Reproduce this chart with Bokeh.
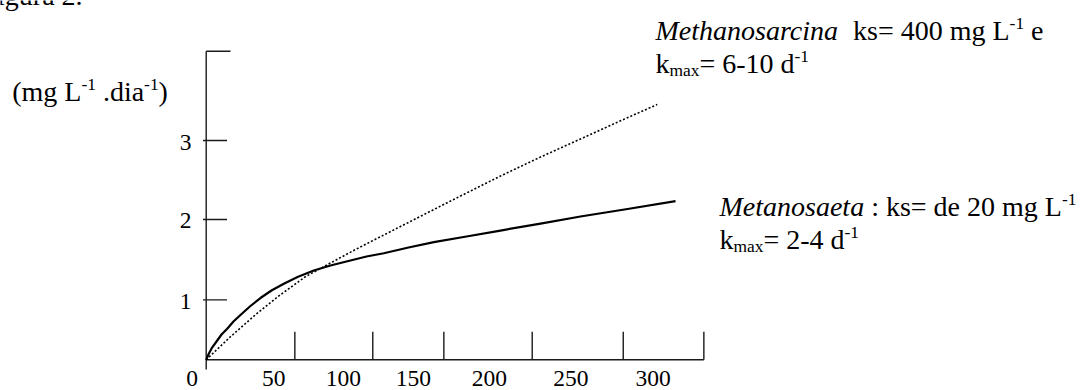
from bokeh.plotting import figure
from bokeh.models import Range1d
from bokeh.embed import file_html
from bokeh.resources import INLINE
from bokeh.core.properties import value

# ---------------- data (substrate mg/L vs rate) ----------------
metanosaeta_x = [0, 1.5, 3.6, 7.4, 10.3, 14.1, 18.3, 23.0, 29.7, 36.4, 43.8, 52.1, 61.3,
                 72.2, 83.4, 96.8, 107.6, 119.2, 135.8, 152.8, 174.7, 197.5, 224.4,
                 251.2, 282.8, 315.0]
metanosaeta_y = [0, 0.073, 0.155, 0.264, 0.346, 0.424, 0.524, 0.613, 0.736, 0.845, 0.948,
                 1.040, 1.133, 1.222, 1.290, 1.358, 1.413, 1.458, 1.536, 1.609, 1.687,
                 1.768, 1.864, 1.960, 2.063, 2.170]
methanosarcina_x = [0, 16.3, 33.1, 49.9, 66.6, 83.4, 100.2, 130.4, 164.0, 197.5, 224.4,
                    253.4, 278.0, 302.7]
methanosarcina_y = [0, 0.316, 0.617, 0.891, 1.137, 1.324, 1.509, 1.824, 2.172, 2.514,
                    2.774, 3.041, 3.269, 3.492]
x_tick_marks = [59.5, 111.8, 159.5, 218.8, 279.9, 334.0]
x_tick_labels = ["0", "50", "100", "150", "200", "250", "300"]
x_label_pos = [-9.4, 45.4, 92.1, 139.1, 190.1, 244.8, 300.0]
y_tick_marks = [0.82, 1.92, 3.0]
y_tick_labels = ["1", "2", "3"]
x_axis_end = 334.0
y_axis_top = 4.22

# ---------------- scale set-up ----------------
KX, KY = 1.49, 73.1          # px per data unit
OX, OY = 205.7, 359.3        # window px of data origin
W, H = 1084, 390

def px2x(X):
    return (X - OX) / KX

def px2y(Y):
    return (OY - Y) / KY

p = figure(width=W, height=H, output_backend="svg", toolbar_location=None,
           x_axis_type=None, y_axis_type=None, min_border=0,
           x_range=Range1d(px2x(0), px2x(W)),
           y_range=Range1d(px2y(H), px2y(0)))
p.outline_line_color = None
p.grid.visible = False
p.background_fill_color = "white"

AX = "#1a1a1a"
FONT = value("Liberation Serif")
MID = 0.33   # distance (in em) from baseline to the "middle" anchor

# axes
p.line([0, x_axis_end], [0, 0], line_color=AX, line_width=1.4)
p.line([0, 0], [px2y(369), y_axis_top], line_color=AX, line_width=1.4)
p.line([0, px2x(230)], [y_axis_top, y_axis_top], line_color=AX, line_width=1.4)
# x tick marks (inside, upward)
p.segment(x0=x_tick_marks, y0=[0] * len(x_tick_marks), x1=x_tick_marks,
          y1=[px2y(331.2)] * len(x_tick_marks), line_color=AX, line_width=1.4)
# y tick marks
p.segment(x0=[px2x(202.5)] * len(y_tick_marks), y0=y_tick_marks,
          x1=[px2x(226.5)] * len(y_tick_marks), y1=y_tick_marks,
          line_color=AX, line_width=1.4)

TFS = 23.5
p.text(x=x_label_pos, y=[px2y(377.8)] * len(x_label_pos), text=x_tick_labels,
       text_font=FONT, text_font_size=f"{TFS}px", text_align="center",
       text_baseline="middle", text_color="black")
p.text(x=[px2x(191)] * len(y_tick_marks), y=[v - 1.5 / KY for v in y_tick_marks],
       text=y_tick_labels, text_font=FONT, text_font_size=f"{TFS}px", text_align="right",
       text_baseline="middle", text_color="black")

# curves
p.line(metanosaeta_x, metanosaeta_y, line_color="black", line_width=2.2,
       line_join="round")
p.line(methanosarcina_x, methanosarcina_y, line_color="black", line_width=1.6,
       line_dash="2 2")

# ---------------- rich text helper (Times metrics) ----------------
ROMAN = {' ': 250, '(': 333, ')': 333, '-': 333, '.': 250, ':': 278, '=': 564,
         'L': 611, 'M': 889, 'F': 556, 'a': 444, 'd': 500, 'e': 444, 'g': 500,
         'i': 278, 'k': 500, 'm': 778, 's': 389, 'x': 500, 'u': 500, 'r': 333}
ITALIC = {' ': 250, 'M': 833, 'e': 444, 't': 278, 'h': 500, 'a': 500, 'n': 500,
          'o': 500, 's': 389, 'r': 389, 'c': 444, 'i': 278}

def twidth(s, italic, fs):
    tab = ITALIC if italic else ROMAN
    return sum(tab.get(c, 500) for c in s) / 1000.0 * fs

def rich(X, Y, segs, size):
    """X, Y: window px of the start of the baseline."""
    off = 0.0
    for txt, kind in segs:
        small = kind in ("sup", "sub")
        fs = size * 0.62 if small else size
        italic = kind == "i"
        stripped = txt.lstrip(" ")
        off += (len(txt) - len(stripped)) * 0.25 * fs
        base = Y
        if kind == "sup":
            base = Y - 0.38 * size
        elif kind == "sub":
            base = Y + 0.13 * size
        p.text(x=[px2x(X + off)], y=[px2y(base - MID * fs)], text=[stripped],
               text_font=FONT, text_font_size=f"{fs:.1f}px",
               text_font_style="italic" if italic else "normal",
               text_align="left", text_baseline="middle", text_color="black")
        off += twidth(stripped, italic, fs)

ANN = 28
rich(-19, 4.5, [("Figura 2.", "n")], ANN)
rich(11.7, 100, [("(mg L", "n"), ("-1", "sup"), (" .dia", "n"), ("-1", "sup"), (")", "n")], ANN)
rich(655, 39.5, [("Methanosarcina", "i"), ("  ks= 400 mg L", "n"), ("-1", "sup"), (" e", "n")], ANN)
rich(655, 72, [("k", "n"), ("max", "sub"), ("= 6-10 d", "n"), ("-1", "sup")], ANN)
rich(719, 215, [("Metanosaeta", "i"), (" : ks= de 20 mg L", "n"), ("-1", "sup")], ANN)
rich(719, 248, [("k", "n"), ("max", "sub"), ("= 2-4 d", "n"), ("-1", "sup")], ANN)

open("out.html", "w").write(file_html(p, INLINE))
